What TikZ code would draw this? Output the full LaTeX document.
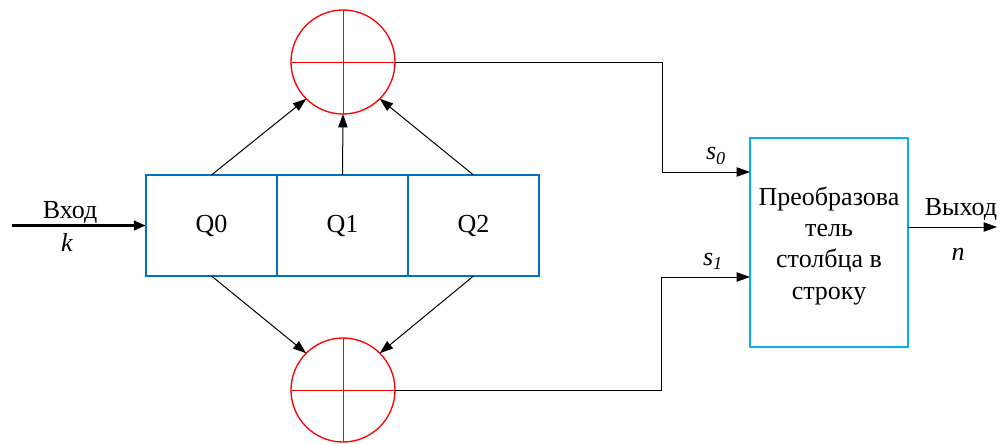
\documentclass[tikz,border=0pt]{standalone}
\usepackage{fontspec}
\setmainfont{Liberation Serif}
\usetikzlibrary{arrows.meta,calc}
\definecolor{regblue}{RGB}{0,112,192}
\definecolor{convblue}{RGB}{0,176,240}
\begin{document}
\begin{tikzpicture}[x=0.75pt,y=-0.75pt,
  txt/.style={font=\fontsize{19.5pt}{22pt}\selectfont},
  adder/.style={draw=red,line width=1pt,circle,minimum size=78pt,inner sep=0pt,outer sep=0pt},
  cross/.style={draw=red,line width=0.75pt},
  reg/.style={draw=regblue,line width=1.6pt,rectangle,minimum width=98.5pt,minimum height=75.75pt,inner sep=0pt,outer sep=0pt,txt},
  conv/.style={draw=convblue,line width=1.6pt,rectangle,minimum width=118.5pt,minimum height=156.75pt,inner sep=0pt,outer sep=0pt},
  convtext/.style={align=center,inner sep=0pt,font=\fontsize{19.5pt}{23.5pt}\selectfont},
  arr/.style={draw=black,line width=0.75pt,-{Triangle[length=10pt,width=7pt]}},
  line/.style={draw=black,line width=0.75pt},
  thickarr/.style={draw=black,line width=2.2pt,-{Triangle[length=9pt,width=7pt]}},
  lbl/.style={txt,inner sep=0pt}
]
\useasboundingbox (0,0) rectangle (1005,443);
% adders
\node[adder] (a0) at (343,62) {};
\node[adder] (a1) at (343,390) {};
\draw[cross] (a0.north) -- (a0.south);
\draw[cross] (a0.west) -- (a0.east);
\draw[cross] (a1.north) -- (a1.south);
\draw[cross] (a1.west) -- (a1.east);
% registers
\node[reg] (q0) at (211.5,225.5) {Q0};
\node[reg] (q1) at (342.5,225.5) {Q1};
\node[reg] (q2) at (473.5,225.5) {Q2};
% converter
\node[conv] (cv) at (829,242.5) {};
\node[convtext] (cvt) at (829,245.5) {Преобразова\\тель\\столбца в\\строку};
% register to adders
\draw[arr] (q0.north) -- (a0.225);
\draw[arr] (q1.north) -- (a0.south);
\draw[arr] (q2.north) -- (a0.-45);
\draw[arr] (q0.south) -- (a1.135);
\draw[arr] (q2.south) -- (a1.45);
% adders to converter
\coordinate (b0) at (662,172);
\coordinate (b1) at (661,277);
\draw[line] (a0.east) -| (b0);
\draw[arr] (b0) -- (cv.west |- b0);
\draw[line] (a1.east) -| (b1);
\draw[arr] (b1) -- (cv.west |- b1);
\node[lbl] (s0) at (716,156) {\textit{s}\textsubscript{\textit{0}}};
\node[lbl] (s1) at (713,261) {\textit{s}\textsubscript{\textit{1}}};
% input
\coordinate (inp) at (12,225.5);
\draw[thickarr] (inp) -- (q0.west);
\node[lbl] (vin) at (70,212) {Вход};
\node[lbl] (k) at (67,242) {\textit{k}};
% output
\coordinate (outp) at (997,227);
\draw[arr] (cv.east |- outp) -- (outp);
\node[lbl] (vout) at (961,209) {Выход};
\node[lbl] (n) at (958,254) {\textit{n}};
\end{tikzpicture}
\end{document}
